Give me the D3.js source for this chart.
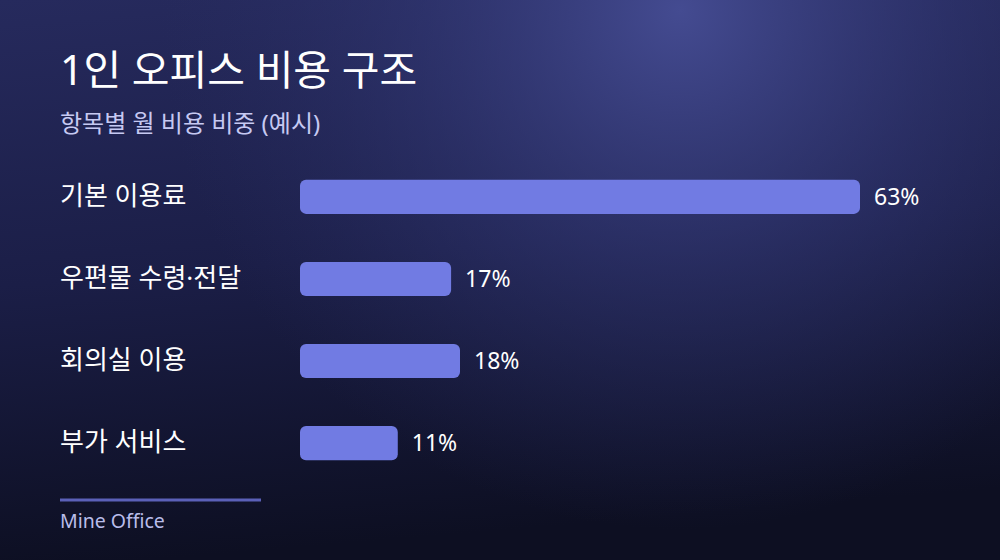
<html>
<head>
<script src="https://d3js.org/d3.v7.min.js"></script>
<style>
  body { margin: 0; background: #0e1024; }
  text { font-family: "Noto Sans", "Noto Sans CJK KR", sans-serif; }
</style>
</head>
<body>
<svg id="chart" width="1000" height="560"></svg>
<script>
const categories = ['기본 이용료', '우편물 수령·전달', '회의실 이용', '부가 서비스'];
const shares = [63, 17, 18, 11];
const valueLabels = ['63%', '17%', '18%', '11%'];

const svg = d3.select('svg#chart');
const width = +svg.attr('width');
const height = +svg.attr('height');

const defs = svg.append('defs');
const base = defs.append('linearGradient')
  .attr('id', 'base')
  .attr('x1', 0).attr('y1', 0).attr('x2', 0.15).attr('y2', 1);
base.append('stop').attr('offset', '0%').attr('stop-color', '#262a5d');
base.append('stop').attr('offset', '50%').attr('stop-color', '#1b1e47');
base.append('stop').attr('offset', '100%').attr('stop-color', '#0d0f22');

const glow = defs.append('radialGradient')
  .attr('id', 'glow')
  .attr('gradientUnits', 'userSpaceOnUse')
  .attr('cx', 680).attr('cy', 10).attr('r', 520);
glow.append('stop').attr('offset', '0%').attr('stop-color', '#444b91').attr('stop-opacity', 1);
glow.append('stop').attr('offset', '50%').attr('stop-color', '#353b7a').attr('stop-opacity', 0.5);
glow.append('stop').attr('offset', '100%').attr('stop-color', '#2a2f66').attr('stop-opacity', 0);

svg.append('rect').attr('width', width).attr('height', height).attr('fill', 'url(#base)');
svg.append('rect').attr('width', width).attr('height', height).attr('fill', 'url(#glow)');

// title block
svg.append('text')
  .attr('x', 60).attr('y', 85)
  .attr('fill', '#ffffff')
  .attr('font-size', 41)
  .attr('font-weight', 400)
  .text('1인 오피스 비용 구조');

svg.append('text')
  .attr('x', 60).attr('y', 132)
  .attr('fill', '#c6c9f2')
  .attr('font-size', 24)
  .text('항목별 월 비용 비중 (예시)');

// scales
const x = d3.scaleLinear().domain([0, 63]).range([0, 560]);
const y = d3.scaleBand().domain(categories).range([156, 484]).paddingInner(0.585).paddingOuter(0.29);

const chart = svg.append('g').attr('transform', 'translate(300,0)');

const rows = chart.selectAll('g.row')
  .data(categories)
  .join('g')
  .attr('class', 'row');

rows.append('rect')
  .attr('x', 0)
  .attr('y', d => y(d))
  .attr('width', (d, i) => x(shares[i]))
  .attr('height', y.bandwidth())
  .attr('rx', 6)
  .attr('fill', '#717be3');

rows.append('text')
  .attr('x', (d, i) => x(shares[i]) + 14)
  .attr('y', d => y(d) + y.bandwidth() / 2)
  .attr('dy', '0.35em')
  .attr('fill', '#ffffff')
  .attr('font-size', 23)
  .text((d, i) => valueLabels[i]);

svg.selectAll('text.cat')
  .data(categories)
  .join('text')
  .attr('class', 'cat')
  .attr('x', 60)
  .attr('y', d => y(d) + y.bandwidth() / 2 - 1)
  .attr('dy', '0.35em')
  .attr('fill', '#ffffff')
  .attr('font-size', 26)
  .text(d => d);

// footer
svg.append('line')
  .attr('x1', 60).attr('x2', 261)
  .attr('y1', 500).attr('y2', 500)
  .attr('stroke', '#5b60b8')
  .attr('stroke-width', 3);

svg.append('text')
  .attr('x', 60).attr('y', 528)
  .attr('fill', '#b9bdea')
  .attr('font-size', 19.5)
  .text('Mine Office');
</script>
</body>
</html>
